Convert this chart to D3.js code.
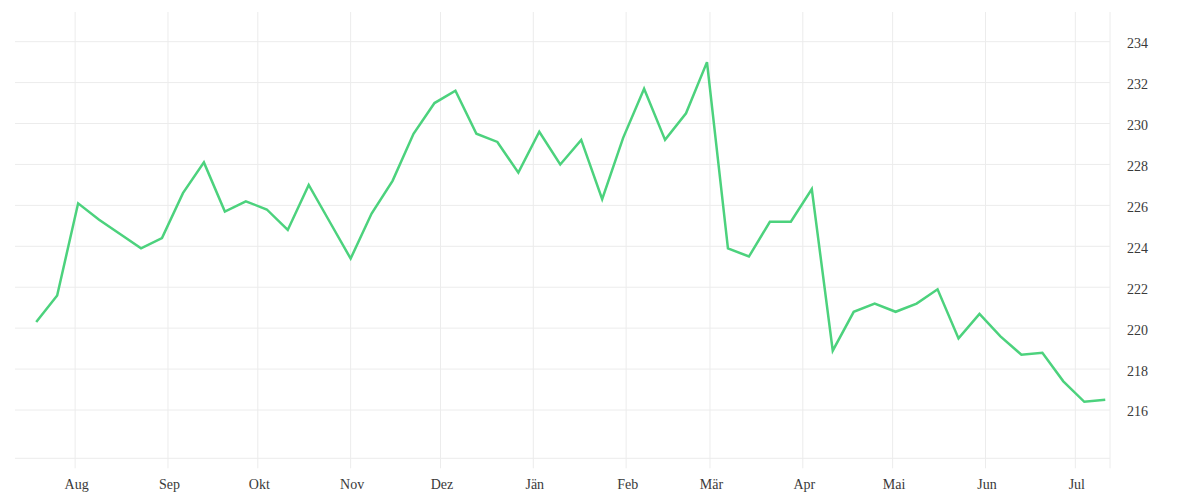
<!DOCTYPE html>
<html>
<head>
<meta charset="utf-8">
<script src="https://cdn.jsdelivr.net/npm/d3@7"></script>
<style>
  body { margin: 0; background: #fff; }
  svg { display: block; }
  text { font-family: "Liberation Serif", serif; font-size: 14px; fill: #3a3a3a; }
</style>
</head>
<body>
<svg id="chart" width="1200" height="500"></svg>
<script>
// weekly dates
var dates = [
  "2022-07-19", "2022-07-26", "2022-08-02", "2022-08-09", "2022-08-16", "2022-08-23",
  "2022-08-30", "2022-09-06", "2022-09-13", "2022-09-20", "2022-09-27", "2022-10-04",
  "2022-10-11", "2022-10-18", "2022-10-25", "2022-11-01", "2022-11-08", "2022-11-15",
  "2022-11-22", "2022-11-29", "2022-12-06", "2022-12-13", "2022-12-20", "2022-12-27",
  "2023-01-03", "2023-01-10", "2023-01-17", "2023-01-24", "2023-01-31", "2023-02-07",
  "2023-02-14", "2023-02-21", "2023-02-28", "2023-03-07", "2023-03-14", "2023-03-21",
  "2023-03-28", "2023-04-04", "2023-04-11", "2023-04-18", "2023-04-25", "2023-05-02",
  "2023-05-09", "2023-05-16", "2023-05-23", "2023-05-30", "2023-06-06", "2023-06-13",
  "2023-06-20", "2023-06-27", "2023-07-04", "2023-07-11"
];

// values
var values = [
  220.3, 221.6, 226.1, 225.3, 224.6, 223.9, 224.4, 226.6, 228.1, 225.7, 226.2, 225.8,
  224.8, 227.0, 225.2, 223.4, 225.6, 227.2, 229.5, 231.0, 231.6, 229.5, 229.1, 227.6,
  229.6, 228.0, 229.2, 226.3, 229.3, 231.7, 229.2, 230.5, 233.0, 223.9, 223.5, 225.2,
  225.2, 226.8, 218.9, 220.8, 221.2, 220.8, 221.2, 221.9, 219.5, 220.7, 219.6, 218.7,
  218.8, 217.4, 216.4, 216.5
];

var monthLabels = ["Jän", "Feb", "Mär", "Apr", "Mai", "Jun", "Jul", "Aug", "Sep", "Okt", "Nov", "Dez"];
var yTicks = [216, 218, 220, 222, 224, 226, 228, 230, 232, 234];

var parse = d3.utcParse("%Y-%m-%d");
var data = dates.map(function(d, i) { return { date: parse(d), value: values[i] }; });

var plotLeft = 15, plotRight = 1110, plotTop = 12, plotBottom = 458.3;

var x = d3.scaleUtc()
    .domain([new Date(Date.UTC(2022, 6, 11, 22)), new Date(Date.UTC(2023, 6, 12, 14))])
    .range([plotLeft, plotRight]);

var y = d3.scaleLinear()
    .domain([213.64, 235.45])
    .range([plotBottom, plotTop]);

var svg = d3.select("#chart");

// horizontal grid
svg.append("g")
    .selectAll("line")
    .data(yTicks)
    .enter().append("line")
    .attr("x1", plotLeft).attr("x2", plotRight)
    .attr("y1", function(d) { return y(d); })
    .attr("y2", function(d) { return y(d); })
    .attr("stroke", "#ececec")
    .attr("stroke-width", 1);

// baseline
svg.append("line")
    .attr("x1", plotLeft).attr("x2", plotRight)
    .attr("y1", plotBottom).attr("y2", plotBottom)
    .attr("stroke", "#ececec");

// vertical grid at months
var months = x.ticks(d3.utcMonth.every(1));
svg.append("g")
    .selectAll("line")
    .data(months)
    .enter().append("line")
    .attr("x1", function(d) { return x(d); })
    .attr("x2", function(d) { return x(d); })
    .attr("y1", plotTop).attr("y2", plotBottom + 10)
    .attr("stroke", "#ececec");

// right edge
svg.append("line")
    .attr("x1", plotRight).attr("x2", plotRight)
    .attr("y1", plotTop).attr("y2", plotBottom + 10)
    .attr("stroke", "#ececec");

// month labels
svg.append("g")
    .selectAll("text")
    .data(months)
    .enter().append("text")
    .attr("x", function(d) { return x(d) + 1.5; })
    .attr("y", 489)
    .attr("text-anchor", "middle")
    .text(function(d) { return monthLabels[d.getUTCMonth()]; });

// y labels on the right
svg.append("g")
    .selectAll("text")
    .data(yTicks)
    .enter().append("text")
    .attr("x", 1127)
    .attr("y", function(d) { return y(d); })
    .attr("dy", "0.46em")
    .text(function(d) { return d; });

// the line
var line = d3.line()
    .x(function(d) { return x(d.date); })
    .y(function(d) { return y(d.value); });

svg.append("path")
    .datum(data)
    .attr("d", line)
    .attr("fill", "none")
    .attr("stroke", "#4cd27d")
    .attr("stroke-width", 2.5)
    .attr("stroke-linejoin", "miter");
</script>
</body>
</html>
